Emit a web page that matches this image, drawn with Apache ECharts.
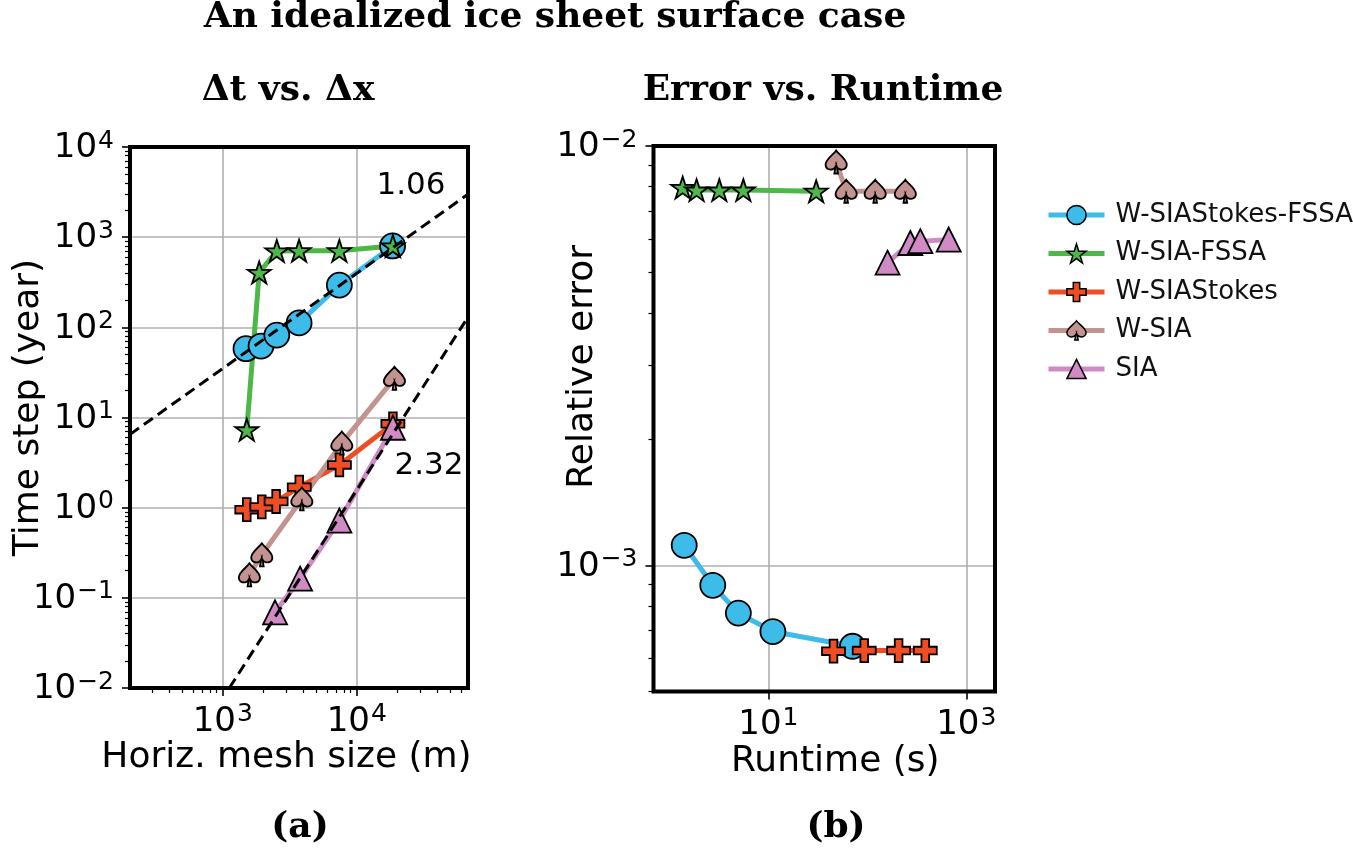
<!DOCTYPE html>
<html>
<head>
<meta charset="utf-8">
<script src="https://cdn.jsdelivr.net/npm/echarts@6/dist/echarts.min.js"></script>
<style>
  html, body { margin: 0; padding: 0; background: #fff; }
  #chart { width: 1353px; height: 864px; }
</style>
</head>
<body>
<div id="chart"></div>
<script>
// (a) time step vs horizontal mesh size
const meshWSIAStokesFSSA = [1490, 1930, 2530, 3710, 7410, 18500];
const dtWSIAStokesFSSA = [58, 62, 82, 112, 294, 800];
const meshWSIAFSSA = [1510, 1870, 2530, 3710, 7410, 18600];
const dtWSIAFSSA = [7.3, 406, 703, 708, 706, 800];
const meshWSIAStokes = [1510, 1955, 2500, 3720, 7420, 18600];
const dtWSIAStokes = [0.95, 1.02, 1.17, 1.69, 2.98, 8.5];
const meshWSIA = [1580, 1955, 3890, 7730, 19100];
const dtWSIA = [0.18, 0.30, 1.25, 5.2, 27.2];
const meshSIA = [2455, 3775, 7415, 18600];
const dtSIA = [0.069, 0.163, 0.72, 7.7];

// dashed slope lines, end points
const fitSlow = [[203, 6.5], [67600, 2990]];   // slope 1.06
const fitSteep = [[1119, 0.01], [67600, 130]]; // slope 2.32

// (b) relative error vs runtime
const runWSIAStokesFSSA = [1.41, 2.74, 4.97, 11.1, 70.8];
const errWSIAStokesFSSA = [1.116e-3, 8.96e-4, 7.69e-4, 6.95e-4, 6.41e-4];
const runWSIAFSSA = [1.36, 1.88, 3.19, 5.58, 30.4];
const errWSIAFSSA = [7.96e-3, 7.85e-3, 7.85e-3, 7.85e-3, 7.80e-3];
const runWSIAStokes = [45.5, 93, 207, 385];
const errWSIAStokes = [6.24e-4, 6.26e-4, 6.26e-4, 6.26e-4];
const runWSIA = [48.4, 61.1, 120, 242];
const errWSIA = [9.16e-3, 7.8e-3, 7.8e-3, 7.8e-3];
const runSIA = [160, 272, 343, 664];
const errSIA = [5.27e-3, 5.87e-3, 5.93e-3, 5.98e-3];

// tick labels
const xTicksA = [1e3, 1e4];
const yTicksA = [1e-2, 1e-1, 1, 10, 100, 1e3, 1e4];
const xTicksB = [10, 1000];
const yTicksB = [1e-3, 1e-2];

const names = ['W-SIAStokes-FSSA', 'W-SIA-FSSA', 'W-SIAStokes', 'W-SIA', 'SIA'];
const colors = ['#3dbcea', '#4cb848', '#ef4d24', '#c3938f', '#d08bc4'];

const STAR = 'path://M50,0 L61.2,34.5 L97.6,34.5 L68.2,55.9 L79.4,90.5 L50,69.1 L20.6,90.5 L31.8,55.9 L2.4,34.5 L38.8,34.5 Z';
const PLUS = 'path://M33.3,0 L66.7,0 L66.7,33.3 L100,33.3 L100,66.7 L66.7,66.7 L66.7,100 L33.3,100 L33.3,66.7 L0,66.7 L0,33.3 L33.3,33.3 Z';
const SPADE = 'path://M50,0 C62,18 96,38 96,62 C96,80 78,88 62,80 C58,78 55,74 53,70 L58,100 L42,100 L47,70 C45,74 42,78 38,80 C22,88 4,80 4,62 C4,38 38,18 50,0 Z';
const symbols = ['circle', STAR, PLUS, SPADE, 'triangle'];
const sizes = [25, 23, 23, 23, 24];

// minor ticks between decades
function minors(lo, hi) {
  const out = [];
  for (let e = lo; e < hi; e++) {
    for (let k = 2; k <= 9; k++) out.push(k * Math.pow(10, e));
  }
  return out;
}

function supLabel(v) {
  const e = Math.round(Math.log10(v));
  return '{b|10}{s|' + String(e).replace('-', '\u2212') + '}';
}

const labelRich = {
  b: { fontSize: 34, fontFamily: 'DejaVu Sans', color: '#000', padding: [3, 1, 0, 0] },
  s: { fontSize: 25, fontFamily: 'DejaVu Sans', color: '#000', verticalAlign: 'top' }
};

const nameFont = { fontSize: 36, fontFamily: 'DejaVu Sans', color: '#000' };

function majorAxis(grid, pos, min, max, ticks, name, gap, pad, margin) {
  return {
    type: 'log', logBase: 10, gridIndex: grid, position: pos, min: min, max: max,
    name: name, nameLocation: 'middle', nameGap: gap, nameMoveOverlap: false,
    nameTextStyle: Object.assign({ padding: pad }, nameFont),
    axisLine: { show: false },
    axisTick: { show: true, length: 8, lineStyle: { color: '#000', width: 1.6 }, customValues: ticks },
    axisLabel: { show: true, margin: margin, customValues: ticks, formatter: supLabel, rich: labelRich },
    splitLine: { show: true, lineStyle: { color: '#b0b0b0', width: 1.6 } },
    minorTick: { show: false }
  };
}

function minorAxis(grid, pos, min, max, ticks) {
  return {
    type: 'log', logBase: 10, gridIndex: grid, position: pos, min: min, max: max,
    axisLine: { show: false },
    axisTick: { show: true, length: 5, lineStyle: { color: '#000', width: 1.2 }, customValues: ticks },
    axisLabel: { show: false },
    splitLine: { show: false }
  };
}

function lineSeries(i, grid, xs, ys) {
  return {
    name: names[i], type: 'line', xAxisIndex: grid, yAxisIndex: grid,
    data: xs.map((x, k) => [x, ys[k]]),
    symbol: symbols[i], symbolSize: sizes[i], symbolKeepAspect: true,
    showAllSymbol: true,
    lineStyle: { color: colors[i], width: 5 },
    itemStyle: { color: colors[i], borderColor: '#000', borderWidth: 1.8 },
    emphasis: { disabled: true }
  };
}

function fitSeries(pts) {
  return {
    name: 'fit', type: 'line', xAxisIndex: 0, yAxisIndex: 0, data: pts,
    symbol: 'none', z: 5, silent: true,
    lineStyle: { color: '#000', width: 3, type: [11, 6] }
  };
}

const chart = echarts.init(document.getElementById('chart'));
const serif = 'bold 36px "DejaVu Serif"';
const sans = '31px "DejaVu Sans"';

function label(text, x, y, font) {
  return { type: 'text', x: x, y: y, z: 10,
    style: { text: text, font: font, fill: '#000', textAlign: 'center', textVerticalAlign: 'middle' } };
}

chart.setOption({
  animation: false,
  backgroundColor: '#fff',
  grid: [
    { left: 130, top: 147, width: 338, height: 541, show: true, z: 1, outerBoundsMode: 'none',
      borderColor: '#000', borderWidth: 4, backgroundColor: 'transparent' },
    { left: 653.5, top: 146, width: 341.5, height: 545.5, show: true, z: 1, outerBoundsMode: 'none',
      borderColor: '#000', borderWidth: 4, backgroundColor: 'transparent' }
  ],
  xAxis: [
    majorAxis(0, 'bottom', 203, 67600, xTicksA, 'Horiz. mesh size (m)', 52, [0, 25, 0, 0], 14),
    majorAxis(1, 'bottom', 0.69, 1950, xTicksB, 'Runtime (s)', 52, [0, 0, 0, 22], 14),
    minorAxis(0, 'bottom', 203, 67600, minors(2, 5))
  ],
  yAxis: [
    majorAxis(0, 'left', 0.01, 10000, yTicksA, 'Time step (year)', 83, [0, 0, 0, 20], 16),
    majorAxis(1, 'left', 5e-4, 1e-2, yTicksB, 'Relative error', 53, [0, 0, 0, 104], 16),
    minorAxis(0, 'left', 0.01, 10000, minors(-2, 4)),
    minorAxis(1, 'left', 5e-4, 1e-2, minors(-4, -2))
  ],
  legend: {
    data: names, orient: 'vertical', left: 1041, top: 197,
    itemWidth: 56, itemHeight: 24, itemGap: 12.5, selectedMode: false,
    textStyle: { fontSize: 26, fontFamily: 'DejaVu Sans', color: '#111', padding: [0, 0, 0, 6] },
    lineStyle: { width: 5 },
    itemStyle: { borderColor: '#000', borderWidth: 1.5 }
  },
  graphic: [
    label('An idealized ice sheet surface case', 555, 18, serif),
    label('\u0394t vs. \u0394x', 288, 91, serif),
    label('Error vs. Runtime', 823, 91, serif),
    label('(a)', 300, 828, serif),
    label('(b)', 836, 828, serif),
    label('1.06', 411, 186, sans),
    label('2.32', 429, 466, sans)
  ],
  series: [
    lineSeries(0, 0, meshWSIAStokesFSSA, dtWSIAStokesFSSA),
    lineSeries(1, 0, meshWSIAFSSA, dtWSIAFSSA),
    lineSeries(2, 0, meshWSIAStokes, dtWSIAStokes),
    lineSeries(3, 0, meshWSIA, dtWSIA),
    lineSeries(4, 0, meshSIA, dtSIA),
    fitSeries(fitSlow),
    fitSeries(fitSteep),
    lineSeries(0, 1, runWSIAStokesFSSA, errWSIAStokesFSSA),
    lineSeries(1, 1, runWSIAFSSA, errWSIAFSSA),
    lineSeries(2, 1, runWSIAStokes, errWSIAStokes),
    lineSeries(3, 1, runWSIA, errWSIA),
    lineSeries(4, 1, runSIA, errSIA)
  ]
});
</script>
</body>
</html>
